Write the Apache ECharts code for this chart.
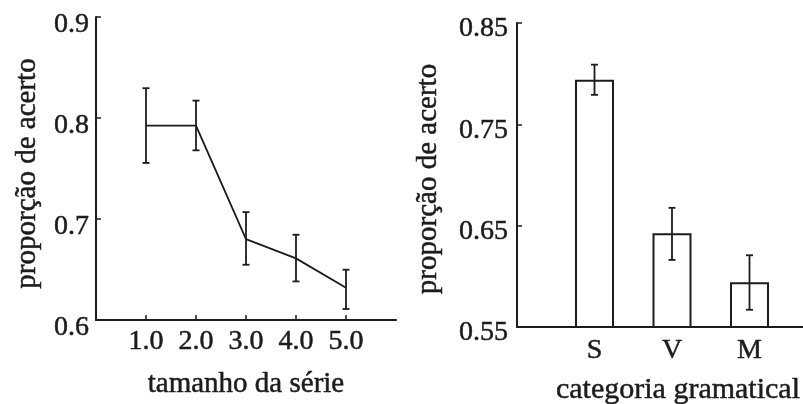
<!DOCTYPE html>
<html>
<head>
<meta charset="utf-8">
<script src="https://cdn.jsdelivr.net/npm/echarts@6/dist/echarts.min.js"></script>
<style>
html,body{margin:0;padding:0;background:#fff;}
#c{width:803px;height:404px;}
</style>
</head>
<body>
<div id="c"></div>
<script>
// ---- Left panel: tamanho da série ----
var sizeLabels = ['1.0', '2.0', '3.0', '4.0', '5.0'];
var sizeMeans  = [0.7925, 0.7925, 0.680, 0.661, 0.632];
var sizeLow    = [0.7555, 0.7680, 0.6547, 0.6382, 0.6109];
var sizeHigh   = [0.8295, 0.8172, 0.7068, 0.6844, 0.6498];
var leftYTicks = ['0.6', '0.7', '0.8', '0.9'];

// ---- Right panel: categoria gramatical ----
var gramCats  = ['S', 'V', 'M'];
var gramMeans = [0.7939, 0.6424, 0.5942];
var gramLow   = [0.7791, 0.6162, 0.5670];
var gramHigh  = [0.8089, 0.6676, 0.6208];
var rightYTicks = ['0.55', '0.65', '0.75', '0.85'];

var INK = '#1c1c1c';
var FONT = '"Liberation Serif", "DejaVu Serif", serif';

// padded category lists (blank slot before and after the real categories)
var leftCats = [''].concat(sizeLabels, [' ']);
var rightCats = [''].concat(gramCats, [' ']);

function errBarRender(params, api) {
  var x = api.value(0);
  var lo = api.coord([x, api.value(1)]);
  var hi = api.coord([x, api.value(2)]);
  var cap = 3.5;
  var st = {stroke: INK, lineWidth: 1.8};
  return {
    type: 'group',
    children: [
      {type: 'line', shape: {x1: lo[0], y1: lo[1], x2: hi[0], y2: hi[1]}, style: st},
      {type: 'line', shape: {x1: lo[0] - cap, y1: lo[1], x2: lo[0] + cap, y2: lo[1]}, style: st},
      {type: 'line', shape: {x1: hi[0] - cap, y1: hi[1], x2: hi[0] + cap, y2: hi[1]}, style: st}
    ]
  };
}

var lineData = sizeMeans.map(function (v, i) { return [i + 1, v]; });
var leftErr = sizeMeans.map(function (v, i) { return [i + 1, sizeLow[i], sizeHigh[i]]; });
var barData = gramMeans.map(function (v, i) { return [i + 1, v]; });
var rightErr = gramMeans.map(function (v, i) { return [i + 1, gramLow[i], gramHigh[i]]; });

var axisLine = {show: true, lineStyle: {color: INK, width: 2}};
var tickStyle = {show: true, inside: true, length: 5, lineStyle: {color: INK, width: 1.5}};
var labelStyle = {color: INK, fontFamily: FONT, fontSize: 28, textBorderColor: INK, textBorderWidth: 0.5};
var nameStyle = {color: INK, fontFamily: FONT, fontSize: 29, textBorderColor: INK, textBorderWidth: 0.5};

var option = {
  backgroundColor: '#ffffff',
  animation: false,
  grid: [
    {left: 96, width: 300, top: 17, height: 303, containLabel: false, outerBoundsMode: 'none'},
    {left: 517, width: 310, top: 23, height: 304, containLabel: false, outerBoundsMode: 'none'}
  ],
  xAxis: [
    {
      gridIndex: 0, type: 'category', data: leftCats, boundaryGap: false,
      name: 'tamanho da série', nameLocation: 'middle', nameGap: 50,
      nameTextStyle: nameStyle,
      axisLine: axisLine,
      axisTick: Object.assign({}, tickStyle, {
        interval: function (i) { return i > 0 && i < leftCats.length - 1; }}),
      axisLabel: Object.assign({}, labelStyle, {margin: 8, interval: 0}),
      splitLine: {show: false}
    },
    {
      gridIndex: 1, type: 'category', data: rightCats, boundaryGap: false,
      name: 'categoria gramatical', nameLocation: 'middle', nameGap: 48,
      nameTextStyle: Object.assign({}, nameStyle, {fontSize: 30, padding: [0, 0, 0, 12]}),
      axisLine: axisLine,
      axisTick: Object.assign({}, tickStyle, {
        interval: function (i) { return i > 0 && i < rightCats.length - 1; }}),
      axisLabel: Object.assign({}, labelStyle, {margin: 10, interval: 0}),
      splitLine: {show: false}
    }
  ],
  yAxis: [
    {
      gridIndex: 0, type: 'value', min: 0.6, max: 0.9, interval: 0.1,
      name: 'proporção de acerto', nameLocation: 'middle', nameGap: 54,
      nameTextStyle: Object.assign({}, nameStyle, {padding: [0, 10, 0, 0]}),
      axisLine: axisLine, axisTick: tickStyle,
      axisLabel: Object.assign({}, labelStyle, {margin: 7, verticalAlign: 'top', lineHeight: 15,
        formatter: function (v) { return v.toFixed(1); }}),
      splitLine: {show: false}
    },
    {
      gridIndex: 1, type: 'value', min: 0.55, max: 0.85, interval: 0.1,
      name: 'proporção de acerto', nameLocation: 'middle', nameGap: 74,
      nameTextStyle: Object.assign({}, nameStyle, {padding: [0, 8, 0, 0]}),
      axisLine: axisLine, axisTick: tickStyle,
      axisLabel: Object.assign({}, labelStyle, {margin: 9, verticalAlign: 'top', lineHeight: 12,
        formatter: function (v) { return v.toFixed(2); }}),
      splitLine: {show: false}
    }
  ],
  series: [
    {
      type: 'line', xAxisIndex: 0, yAxisIndex: 0, data: lineData,
      symbol: 'none', lineStyle: {color: INK, width: 1.8}, z: 3
    },
    {
      type: 'custom', xAxisIndex: 0, yAxisIndex: 0, data: leftErr,
      renderItem: errBarRender, z: 4
    },
    {
      type: 'bar', xAxisIndex: 1, yAxisIndex: 1, data: barData, barWidth: 39,
      itemStyle: {color: '#ffffff', borderColor: INK, borderWidth: 2}, z: 2
    },
    {
      type: 'custom', xAxisIndex: 1, yAxisIndex: 1, data: rightErr,
      renderItem: errBarRender, z: 4
    }
  ]
};

var chart = echarts.init(document.getElementById('c'), null, {renderer: 'canvas'});
chart.setOption(option);
</script>
</body>
</html>
